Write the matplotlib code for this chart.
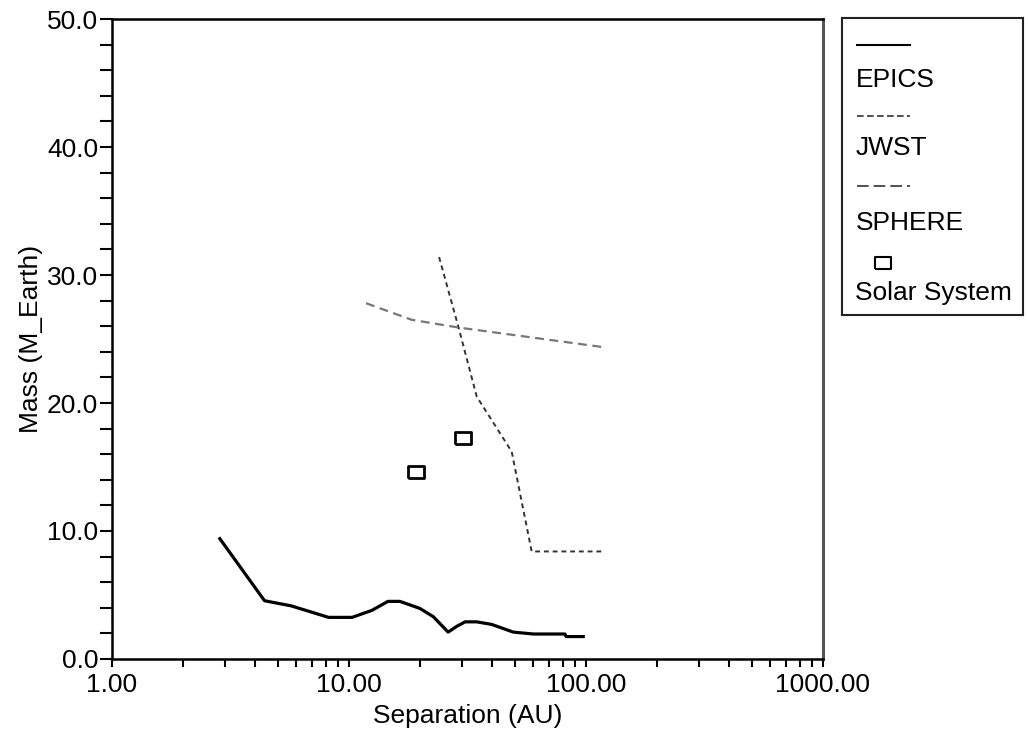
import numpy as np
import matplotlib.pyplot as plt
from matplotlib.ticker import FixedLocator, MultipleLocator

plt.rcParams['font.family'] = ['Liberation Sans', 'DejaVu Sans']

# EPICS detection limit
epics_sep = [2.85, 4.4, 5.7, 8.2, 10.3, 12.5, 14.6, 16.4, 19.9, 22.7, 26.2, 28.5, 30.9, 34.6, 40.0, 49.3, 60.0, 81.5, 82.5, 97.4]
epics_mass = [9.4, 4.55, 4.15, 3.25, 3.25, 3.8, 4.5, 4.5, 3.95, 3.3, 2.1, 2.55, 2.9, 2.9, 2.7, 2.1, 1.95, 1.95, 1.75, 1.75]

# JWST detection limit
jwst_sep = [24.0, 28.9, 34.6, 48.6, 59.0, 120.0]
jwst_mass = [31.4, 26.0, 20.5, 16.2, 8.4, 8.4]

# SPHERE detection limit
sphere_sep = [11.8, 18.4, 28.9, 120.0]
sphere_mass = [27.8, 26.5, 25.9, 24.35]

# Solar system planets (Uranus, Neptune)
solar_sep = [19.2, 30.4]
solar_mass = [14.6, 17.3]

xtick_vals = [1, 10, 100, 1000]
xtick_labels = ["1.00", "10.00", "100.00", "1000.00"]
ytick_vals = [0, 10, 20, 30, 40, 50]
ytick_labels = ["0.0", "10.0", "20.0", "30.0", "40.0", "50.0"]

FS = 19
rect = [(-1, -0.75), (1, -0.75), (1, 0.75), (-1, 0.75), (-1, -0.75)]

fig = plt.figure(figsize=(10.28, 7.33), dpi=100)
ax = fig.add_axes([0.109, 0.101, 0.6915, 0.873])

ax.plot(epics_sep, epics_mass, '-', color='black', lw=2.3)
ax.plot(jwst_sep, jwst_mass, color='#333333', lw=1.4, linestyle=(0, (2.5, 2)))
ax.plot(sphere_sep, sphere_mass, color='#777777', lw=1.6, linestyle=(0, (4, 2.5)))
ax.plot(solar_sep, solar_mass, linestyle='none', marker=rect, markersize=12,
        markerfacecolor='white', markeredgecolor='black', markeredgewidth=2)

ax.set_xscale('log')
ax.set_xlim(1, 1000)
ax.set_ylim(0, 50)
ax.xaxis.set_major_locator(FixedLocator(xtick_vals))
ax.set_xticklabels(xtick_labels)
ax.set_yticks(ytick_vals)
ax.set_yticklabels(ytick_labels)
ax.yaxis.set_minor_locator(MultipleLocator(2))

ax.tick_params(axis='x', which='both', direction='out', length=6, width=1.5, pad=4, labelsize=FS)
ax.tick_params(axis='y', which='both', direction='out', length=9, width=1.5, pad=1, labelsize=FS)

for s in ['left', 'bottom', 'top']:
    ax.spines[s].set_linewidth(1.8)
    ax.spines[s].set_color('black')
ax.spines['right'].set_linewidth(2.2)
ax.spines['right'].set_color('#555555')

ax.set_xlabel("Separation (AU)", fontsize=FS, labelpad=5)
ax.set_ylabel("Mass (M_Earth)", fontsize=FS, labelpad=3)

# legend box drawn by hand: sample above label
lax = fig.add_axes([0.819, 0.570, 0.176, 0.405])
lax.set_xlim(0, 1)
lax.set_ylim(0, 1)
lax.set_xticks([])
lax.set_yticks([])
for s in lax.spines.values():
    s.set_linewidth(1.5)
    s.set_color('#222222')

lx = [0.083, 0.376]
lax.plot(lx, [0.909, 0.909], '-', color='black', lw=1.5)
lax.text(0.075, 0.791, "EPICS", fontsize=FS, va='center', ha='left')
lax.plot(lx, [0.670, 0.670], color='#333333', lw=1.2, linestyle=(0, (4, 2)))
lax.text(0.075, 0.562, "JWST", fontsize=FS, va='center', ha='left')
lax.plot(lx, [0.434, 0.434], color='#333333', lw=1.2, linestyle=(0, (7, 3)))
lax.text(0.075, 0.310, "SPHERE", fontsize=FS, va='center', ha='left')
lax.plot([0.227], [0.175], linestyle='none', marker=rect, markersize=12,
         markerfacecolor='white', markeredgecolor='black', markeredgewidth=1.5)
lax.text(0.07, 0.074, "Solar System", fontsize=FS, va='center', ha='left')

fig.savefig("out.png", dpi=100)
